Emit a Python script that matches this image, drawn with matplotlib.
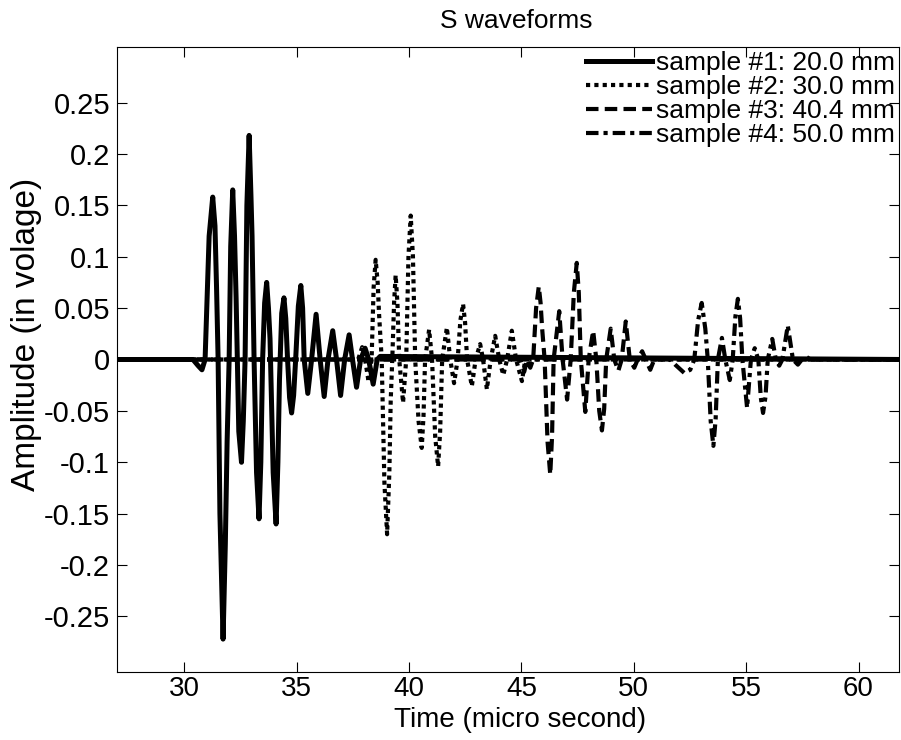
import matplotlib
matplotlib.use("Agg")
import matplotlib.pyplot as plt

plt.rcParams['font.family'] = ['Liberation Sans', 'DejaVu Sans']

# sample #1: 20.0 mm (time in micro second, amplitude in volt)
t1 = [27.0, 30.38, 30.61, 30.78, 30.92, 31.01, 31.10, 31.26, 31.36, 31.43, 31.50,
      31.58, 31.72, 31.82, 31.90, 31.99, 32.06, 32.15, 32.23, 32.30, 32.42, 32.54,
      32.62, 32.70, 32.78, 32.88, 32.96, 33.01, 33.10, 33.21, 33.32, 33.40, 33.48,
      33.57, 33.66, 33.74, 33.81, 33.95, 34.08, 34.16, 34.23, 34.33, 34.43, 34.51,
      34.59, 34.68, 34.77, 34.86, 34.95, 35.07, 35.18, 35.26, 35.33, 35.49, 35.66,
      35.86, 36.04, 36.22, 36.39, 36.60, 36.77, 36.95, 37.13, 37.33, 37.48, 37.66,
      37.84, 38.04, 38.20, 38.40, 38.58, 38.71, 62.0]
a1 = [0.0, 0.0, -0.006, -0.010, 0.0, 0.06, 0.12, 0.158, 0.13, 0.07, 0.0,
      -0.15, -0.272, -0.18, -0.08, 0.0, 0.11, 0.165, 0.12, 0.06, -0.07, -0.10,
      -0.06, 0.0, 0.15, 0.218, 0.16, 0.12, 0.0, -0.11, -0.155, -0.10, 0.0,
      0.055, 0.075, 0.05, 0.02, -0.11, -0.160, -0.10, -0.02, 0.045, 0.060, 0.04,
      0.0, -0.037, -0.052, -0.035, 0.0, 0.052, 0.072, 0.05, 0.0, -0.033, 0.0,
      0.044, 0.0, -0.036, 0.0, 0.028, 0.0, -0.035, 0.0, 0.024, 0.0, -0.027,
      0.0, 0.011, 0.0, -0.024, 0.0, 0.003, 0.0]

# sample #2: 30.0 mm
t2 = [27.0, 37.73, 37.91, 38.04, 38.20, 38.33, 38.42, 38.51, 38.60, 38.66, 38.78,
      38.90, 39.02, 39.12, 39.18, 39.25, 39.33, 39.40, 39.48, 39.56, 39.73, 39.87,
      39.97, 40.07, 40.17, 40.27, 40.42, 40.56, 40.64, 40.71, 40.89, 41.02, 41.16,
      41.29, 41.38, 41.47, 41.68, 41.83, 42.00, 42.16, 42.28, 42.40, 42.49, 42.58,
      42.79, 42.96, 43.16, 43.29, 43.46, 43.63, 43.83, 44.01, 44.19, 44.36, 44.57,
      44.76, 45.02, 45.17, 45.30, 45.43, 62.0]
a2 = [0.0, 0.0, 0.012, 0.0, -0.022, 0.0, 0.07, 0.097, 0.075, 0.045, 0.0,
      -0.12, -0.170, -0.11, -0.04, 0.0, 0.055, 0.082, 0.055, 0.0, -0.042, 0.0,
      0.10, 0.140, 0.10, 0.0, -0.06, -0.086, -0.055, 0.0, 0.029, 0.0, -0.075,
      -0.104, -0.07, 0.0, 0.031, 0.0, -0.023, 0.0, 0.038, 0.054, 0.036, 0.0,
      -0.026, 0.0, 0.015, 0.0, -0.029, 0.0, 0.023, 0.0, -0.015, 0.0, 0.028,
      0.0, -0.021, 0.0, 0.005, 0.0, 0.0]

# sample #3: 40.4 mm
t3 = [27.0, 44.94, 45.12, 45.25, 45.39, 45.52, 45.65, 45.77, 45.85, 45.92, 46.03,
      46.16, 46.28, 46.36, 46.43, 46.68, 46.83, 47.03, 47.19, 47.33, 47.46, 47.55,
      47.64, 47.84, 47.99, 48.19, 48.33, 48.46, 48.58, 48.68, 48.77, 48.97, 49.13,
      49.31, 49.46, 49.64, 49.82, 50.02, 50.17, 50.37, 50.53, 50.73, 50.91, 62.0]
a3 = [0.0, 0.0, -0.012, 0.0, -0.008, 0.0, 0.05, 0.071, 0.055, 0.03, 0.0,
      -0.08, -0.112, -0.075, 0.0, 0.047, 0.0, -0.039, 0.0, 0.065, 0.094, 0.065,
      0.0, -0.051, 0.0, 0.028, 0.0, -0.05, -0.069, -0.048, 0.0, 0.030, 0.0,
      -0.011, 0.0, 0.037, 0.0, -0.008, 0.0, 0.008, 0.0, -0.010, 0.0, 0.0]

# sample #4: 50.0 mm
t4 = [27.0, 51.62, 51.84, 52.24, 52.51, 52.69, 52.86, 53.02, 53.18, 53.29, 53.42,
      53.54, 53.64, 53.74, 53.92, 54.07, 54.27, 54.40, 54.52, 54.63, 54.73, 54.83,
      55.04, 55.21, 55.38, 55.54, 55.65, 55.75, 55.86, 55.96, 56.16, 56.32, 56.47,
      56.61, 56.85, 57.08, 57.30, 57.48, 57.65, 57.86, 62.0]
a4 = [0.0, 0.0, -0.005, -0.013, -0.010, 0.0, 0.038, 0.055, 0.03, 0.0, -0.06,
      -0.084, -0.058, 0.0, 0.021, 0.0, -0.020, 0.0, 0.042, 0.059, 0.04, 0.0,
      -0.047, 0.0, 0.011, 0.0, -0.037, -0.052, -0.036, 0.0, 0.020, 0.0, -0.006,
      0.0, 0.033, 0.0, -0.005, 0.0, 0.003, 0.0, 0.0]

labels = ['sample #1: 20.0 mm', 'sample #2: 30.0 mm',
          'sample #3: 40.4 mm', 'sample #4: 50.0 mm']
xticks = [30, 35, 40, 45, 50, 55, 60]
yticks = [0.25, 0.2, 0.15, 0.1, 0.05, 0, -0.05, -0.1, -0.15, -0.2, -0.25]
ytick_labels = ['0.25', '0.2', '0.15', '0.1', '0.05', '0', '-0.05', '-0.1',
                '-0.15', '-0.2', '-0.25']

fig = plt.figure(figsize=(9.01, 7.40), dpi=100)
ax = fig.add_axes([117/901, 68/740, 782/901, 625/740])

ax.plot(t1, a1, color='black', lw=3.6, ls='-', label=labels[0])
ax.plot(t2, a2, color='black', lw=3.0, ls=(0, (1, 1)), label=labels[1])
ax.plot(t3, a3, color='black', lw=3.0, ls=(0, (3, 1.5)), label=labels[2])
ax.plot(t4, a4, color='black', lw=3.0, ls=(0, (3, 1.2, 1, 1.2)), label=labels[3])

ax.set_xlim(27, 61.8)
ax.set_ylim(-0.304, 0.304)
ax.set_xticks(xticks)
ax.set_yticks(yticks)
ax.set_yticklabels(ytick_labels)
ax.tick_params(direction='in', length=7, width=0.8, top=True, right=True,
               labelsize=21)
ax.tick_params(axis='x', labelsize=20, pad=3)
ax.tick_params(axis='y', pad=5)
for s in ax.spines.values():
    s.set_linewidth(0.8)

ax.set_title('S waveforms', fontsize=19, x=0.51, pad=14)
ax.set_xlabel('Time (micro second)', fontsize=20)
ax.xaxis.set_label_coords(0.515, -0.056)
ax.set_ylabel('Amplitude (in volage)', fontsize=24)
ax.yaxis.set_label_coords(-0.096, 0.54)

ax.legend(loc='upper right', frameon=False, fontsize=19, handlelength=2.5,
          handletextpad=0.15, labelspacing=0.0, borderaxespad=0.15,
          borderpad=0.0)

fig.savefig('out.png', dpi=100)
